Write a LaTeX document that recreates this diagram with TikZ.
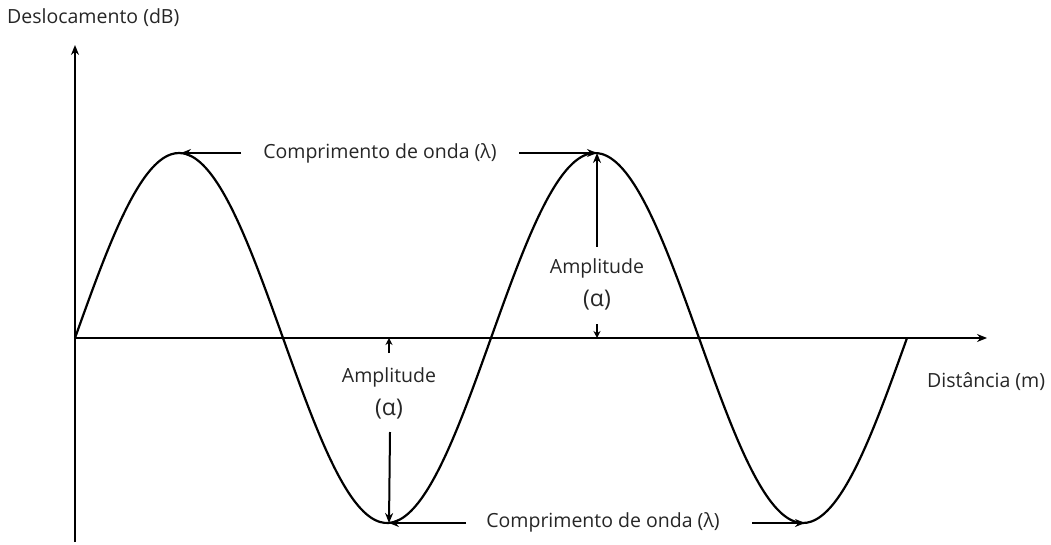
\documentclass[tikz,border=0pt]{standalone}
\usepackage{fontspec}
\setmainfont{Open Sans}
\usetikzlibrary{arrows.meta}
\begin{document}
\begin{tikzpicture}[x=1pt,y=-1pt,
  lbl/.style={font=\fontsize{19.5}{22}\selectfont, text=black!85, inner sep=1pt},
  alp/.style={font=\fontsize{23}{24}\selectfont, text=black!85, inner sep=1pt},
  arr/.style={line width=2pt, -{Stealth[length=10pt,width=8pt]}},
  sarr/.style={line width=2pt, -{Stealth[length=7pt,width=7pt]}},
  ax/.style={line width=2.2pt, -{Stealth[length=10pt,width=8pt]}}]
\useasboundingbox (0,0) rectangle (1051,545);
% axes
\coordinate (o) at (75,338);
\coordinate (ytop) at (75,45);
\coordinate (ybot) at (75,542);
\coordinate (xend) at (987,338);
\draw[ax] (ybot) -- (ytop);
\draw[ax] (o) -- (xend);
% wave
\draw[line width=2.2pt, domain=0:832, samples=200, smooth]
  plot ({75+\x},{338-185*sin(\x/416*360)});
% labels
\node[lbl, anchor=west] (ylab) at (6,18) {Deslocamento (dB)};
\node[lbl, anchor=west] (xlab) at (926,382) {Distância (m)};
% peaks / troughs
\coordinate (p1) at (181,153);
\coordinate (p2) at (597,153);
\coordinate (t1) at (389,523);
\coordinate (t2) at (805,523);
\coordinate (a0) at (597,338);
\coordinate (b0) at (389,338);
% top wavelength
\node[lbl] (wl1) at (380,153) {Comprimento de onda (λ)};
\coordinate (wl1l) at (241,153);
\coordinate (wl1r) at (519,153);
\draw[arr] (wl1l) -- (p1);
\draw[arr] (wl1r) -- (p2);
% right amplitude
\node[lbl] (am1) at (597,268) {Amplitude};
\node[alp] (al1) at (597,300) {(α)};
\coordinate (am1t) at (597,247);
\coordinate (al1b) at (597,324);
\draw[arr] (am1t) -- (p2);
\draw[sarr] (al1b) -- (a0);
% left amplitude
\node[lbl] (am2) at (389,377) {Amplitude};
\node[alp] (al2) at (389,409) {(α)};
\coordinate (am2t) at (389,353);
\coordinate (al2b) at (390,432);
\draw[sarr] (am2t) -- (b0);
\draw[arr] (al2b) -- (t1);
% bottom wavelength
\node[lbl] (wl2) at (603,522) {Comprimento de onda (λ)};
\coordinate (wl2l) at (466,523);
\coordinate (wl2r) at (752,523);
\draw[arr] (wl2l) -- (t1);
\draw[arr] (wl2r) -- (t2);
\end{tikzpicture}
\end{document}
